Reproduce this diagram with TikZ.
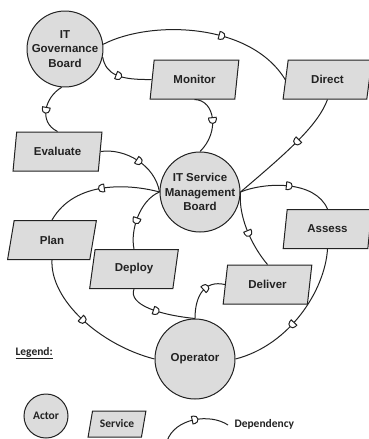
\documentclass[tikz,border=0pt]{standalone}
\usepackage{fontspec}
\setmainfont{Liberation Sans}
\newfontfamily\calfont{Carlito}
\usetikzlibrary{shapes.geometric,decorations.markings}
\definecolor{shapefill}{HTML}{DCDCDC}
\definecolor{ink}{HTML}{222222}
\begin{document}
\begin{tikzpicture}[x=1pt,y=-1pt,
  actor/.style={circle,draw=ink,line width=1pt,fill=shapefill,inner sep=0pt,align=center,
    font=\fontsize{11.5}{14.5}\selectfont\bfseries, text=ink},
  service/.style={trapezium,trapezium left angle=76,trapezium right angle=104,trapezium stretches=true,
    draw=ink,line width=1pt,fill=shapefill,inner sep=0pt,minimum width=89pt,minimum height=39pt,
    font=\fontsize{11.5}{14}\selectfont\bfseries, text=ink},
  link/.style={draw=ink,line width=1pt},
  dep/.style={postaction={decorate},decoration={markings,
    mark=at position #1 with {\draw[ink,fill=white,line width=1pt] (-1.5pt,-3.8pt) -- (-1.5pt,3.8pt) -- (0.5pt,3.8pt) arc[start angle=90,end angle=-90,radius=3.8pt] -- cycle;}}},
  legendtext/.style={font=\calfont\fontsize{11.5}{14}\selectfont\bfseries, text=ink}
]
\useasboundingbox (0,0) rectangle (368,439);

% actors
\node[actor,minimum size=74pt] (itgb) at (65,49) {IT\\Governance\\Board};
\node[actor,minimum size=80pt] (itsmb) at (200,192) {IT Service\\Management\\Board};
\node[actor,minimum size=80pt] (op) at (195,359) {Operator};

% services
\node[service] (mon) at (194.5,79.5) {Monitor};
\node[service] (dir) at (327.5,79.5) {Direct};
\node[service] (eval) at (57.5,151.5) {Evaluate};
\node[service] (plan) at (52,240) {Plan};
\node[service] (deploy) at (134,269) {Deploy};
\node[service] (deliver) at (267.5,284.5) {Deliver};
\node[service] (assess) at (327.5,229) {Assess};

% dependencies
\draw[link,dep=0.6] (itgb.7) .. controls (150,20) and (250,22) .. (dir.west);
\draw[link,dep=0.42] (itgb.-12) .. controls (106,75) and (120,80) .. (mon.west);
\draw[link,dep=0.5] (itgb.-95) .. controls (45,97) and (38,122) .. (eval.north);
\draw[link,dep=0.45] (mon.south) .. controls (215,100) and (220,132) .. (itsmb.north);
\draw[link,dep=0.4] (dir.south) .. controls (318,125) and (290,150) .. (itsmb.east);
\draw[link,dep=0.5] (eval.east) .. controls (125,148) and (155,165) .. (itsmb.west);
\draw[link,dep=0.48] (itsmb.west) .. controls (130,184) and (75,180) .. (plan.north);
\draw[link,dep=0.55] (itsmb.west) .. controls (140,200) and (130,230) .. (deploy.north);
\draw[link,dep=0.5] (itsmb.east) .. controls (265,182) and (315,180) .. (assess.north);
\draw[link,dep=0.52] (itsmb.east) .. controls (238,220) and (255,250) .. (deliver.north);
\draw[link,dep=0.45] (plan.south) .. controls (50,300) and (100,345) .. (op.west);
\draw[link,dep=0.45] (deploy.south) .. controls (128,305) and (160,315) .. (op.north);
\draw[link,dep=0.6] (op.north) .. controls (195,295) and (205,280) .. (deliver.west);
\draw[link,dep=0.55] (assess.south) .. controls (325,290) and (290,345) .. (op.east);

% legend
\node[legendtext,anchor=west] (legtitle) at (12,353) {\underline{Legend:}};
\node[actor,minimum size=44pt,font=\calfont\fontsize{11.5}{14}\selectfont\bfseries] (legactor) at (46,416) {Actor};
\node[service,minimum width=58pt,minimum height=26pt,trapezium left angle=69,trapezium right angle=111,
  font=\calfont\fontsize{11.5}{14}\selectfont\bfseries] (legservice) at (117,424) {Service};
\coordinate (depa) at (167,441);
\coordinate (depb) at (228,425);
\draw[link,dep=0.5] (depa) .. controls (175,418) and (210,413) .. (depb);
\node[legendtext,anchor=west] (legdep) at (231,424) {Dependency};
\end{tikzpicture}
\end{document}
